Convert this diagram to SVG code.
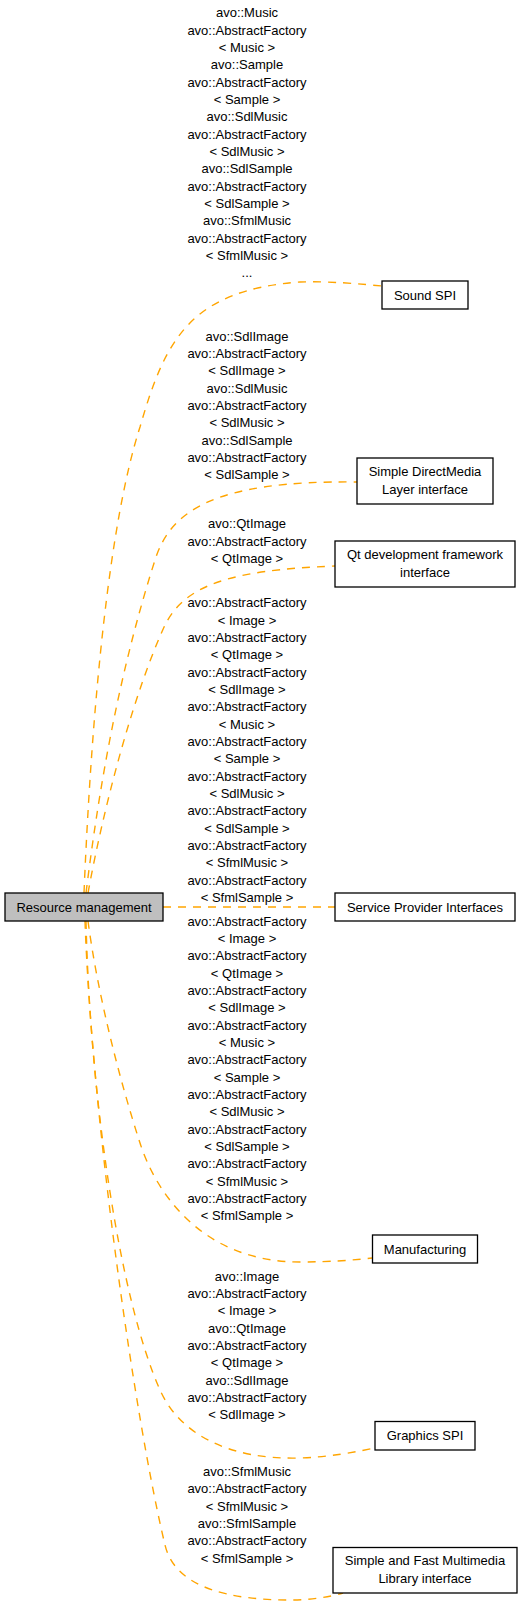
<svg xmlns="http://www.w3.org/2000/svg" width="523" height="1605" viewBox="0 0 523 1605">
<style>
.bg{fill:#ffffff}
.edge{fill:none;stroke:#ffa500;stroke-width:1.4;stroke-dasharray:8,7}
.node{fill:#ffffff;stroke:#000000;stroke-width:1.3}
.cur{fill:#bfbfbf;stroke:#000000;stroke-width:1.3}
text{font-family:"Liberation Sans",Arial,Helvetica,sans-serif;font-size:13px;fill:#000000;text-anchor:middle}
</style>
<rect class="bg" x="0" y="0" width="523" height="1605"/>
<g id="connectors">
  <g id="e-sound">
    <path class="edge" d="M84,893 C92,700 110,520 140,427 C165,340 190,290 300,282 C330,281 360,284 382,286"/>
    <text x="247" y="17.3"><tspan x="247">avo::Music</tspan><tspan x="247" dy="17.33">avo::AbstractFactory</tspan><tspan x="247" dy="17.33">&lt; Music &gt;</tspan><tspan x="247" dy="17.33">avo::Sample</tspan><tspan x="247" dy="17.33">avo::AbstractFactory</tspan><tspan x="247" dy="17.33">&lt; Sample &gt;</tspan><tspan x="247" dy="17.33">avo::SdlMusic</tspan><tspan x="247" dy="17.33">avo::AbstractFactory</tspan><tspan x="247" dy="17.33">&lt; SdlMusic &gt;</tspan><tspan x="247" dy="17.33">avo::SdlSample</tspan><tspan x="247" dy="17.33">avo::AbstractFactory</tspan><tspan x="247" dy="17.33">&lt; SdlSample &gt;</tspan><tspan x="247" dy="17.33">avo::SfmlMusic</tspan><tspan x="247" dy="17.33">avo::AbstractFactory</tspan><tspan x="247" dy="17.33">&lt; SfmlMusic &gt;</tspan><tspan x="247" dy="17.33">...</tspan></text>
  </g>
  <g id="e-sdl">
    <path class="edge" d="M86,893 C100,780 120,670 155,560 C170,513 210,480 357,482"/>
    <text x="247" y="340.7"><tspan x="247">avo::SdlImage</tspan><tspan x="247" dy="17.33">avo::AbstractFactory</tspan><tspan x="247" dy="17.33">&lt; SdlImage &gt;</tspan><tspan x="247" dy="17.33">avo::SdlMusic</tspan><tspan x="247" dy="17.33">avo::AbstractFactory</tspan><tspan x="247" dy="17.33">&lt; SdlMusic &gt;</tspan><tspan x="247" dy="17.33">avo::SdlSample</tspan><tspan x="247" dy="17.33">avo::AbstractFactory</tspan><tspan x="247" dy="17.33">&lt; SdlSample &gt;</tspan></text>
  </g>
  <g id="e-qt">
    <path class="edge" d="M88,893 C105,800 135,690 165,625 C185,585 230,570 335,566"/>
    <text x="247" y="528.3"><tspan x="247">avo::QtImage</tspan><tspan x="247" dy="17.33">avo::AbstractFactory</tspan><tspan x="247" dy="17.33">&lt; QtImage &gt;</tspan></text>
  </g>
  <g id="e-spi">
    <path class="edge" d="M163,907 L335,907"/>
    <text x="247" y="607.3"><tspan x="247">avo::AbstractFactory</tspan><tspan x="247" dy="17.33">&lt; Image &gt;</tspan><tspan x="247" dy="17.33">avo::AbstractFactory</tspan><tspan x="247" dy="17.33">&lt; QtImage &gt;</tspan><tspan x="247" dy="17.33">avo::AbstractFactory</tspan><tspan x="247" dy="17.33">&lt; SdlImage &gt;</tspan><tspan x="247" dy="17.33">avo::AbstractFactory</tspan><tspan x="247" dy="17.33">&lt; Music &gt;</tspan><tspan x="247" dy="17.33">avo::AbstractFactory</tspan><tspan x="247" dy="17.33">&lt; Sample &gt;</tspan><tspan x="247" dy="17.33">avo::AbstractFactory</tspan><tspan x="247" dy="17.33">&lt; SdlMusic &gt;</tspan><tspan x="247" dy="17.33">avo::AbstractFactory</tspan><tspan x="247" dy="17.33">&lt; SdlSample &gt;</tspan><tspan x="247" dy="17.33">avo::AbstractFactory</tspan><tspan x="247" dy="17.33">&lt; SfmlMusic &gt;</tspan><tspan x="247" dy="17.33">avo::AbstractFactory</tspan><tspan x="247" dy="17.33">&lt; SfmlSample &gt;</tspan></text>
  </g>
  <g id="e-manufacturing">
    <path class="edge" d="M88,921 C97,990 118,1075 140,1143 C155,1190 200,1262 300,1262 C330,1262 355,1260 372,1258"/>
    <text x="247" y="925.7"><tspan x="247">avo::AbstractFactory</tspan><tspan x="247" dy="17.33">&lt; Image &gt;</tspan><tspan x="247" dy="17.33">avo::AbstractFactory</tspan><tspan x="247" dy="17.33">&lt; QtImage &gt;</tspan><tspan x="247" dy="17.33">avo::AbstractFactory</tspan><tspan x="247" dy="17.33">&lt; SdlImage &gt;</tspan><tspan x="247" dy="17.33">avo::AbstractFactory</tspan><tspan x="247" dy="17.33">&lt; Music &gt;</tspan><tspan x="247" dy="17.33">avo::AbstractFactory</tspan><tspan x="247" dy="17.33">&lt; Sample &gt;</tspan><tspan x="247" dy="17.33">avo::AbstractFactory</tspan><tspan x="247" dy="17.33">&lt; SdlMusic &gt;</tspan><tspan x="247" dy="17.33">avo::AbstractFactory</tspan><tspan x="247" dy="17.33">&lt; SdlSample &gt;</tspan><tspan x="247" dy="17.33">avo::AbstractFactory</tspan><tspan x="247" dy="17.33">&lt; SfmlMusic &gt;</tspan><tspan x="247" dy="17.33">avo::AbstractFactory</tspan><tspan x="247" dy="17.33">&lt; SfmlSample &gt;</tspan></text>
  </g>
  <g id="e-graphics">
    <path class="edge" d="M86,921 C90,1100 120,1300 160,1390 C180,1435 230,1460 300,1458 C330,1457 355,1452 375,1448"/>
    <text x="247" y="1280.7"><tspan x="247">avo::Image</tspan><tspan x="247" dy="17.33">avo::AbstractFactory</tspan><tspan x="247" dy="17.33">&lt; Image &gt;</tspan><tspan x="247" dy="17.33">avo::QtImage</tspan><tspan x="247" dy="17.33">avo::AbstractFactory</tspan><tspan x="247" dy="17.33">&lt; QtImage &gt;</tspan><tspan x="247" dy="17.33">avo::SdlImage</tspan><tspan x="247" dy="17.33">avo::AbstractFactory</tspan><tspan x="247" dy="17.33">&lt; SdlImage &gt;</tspan></text>
  </g>
  <g id="e-sfml">
    <path class="edge" d="M85,921 C92,1120 135,1420 165,1545 C175,1588 230,1600 290,1600 C310,1600 330,1597 343,1593"/>
    <text x="247" y="1476"><tspan x="247">avo::SfmlMusic</tspan><tspan x="247" dy="17.33">avo::AbstractFactory</tspan><tspan x="247" dy="17.33">&lt; SfmlMusic &gt;</tspan><tspan x="247" dy="17.33">avo::SfmlSample</tspan><tspan x="247" dy="17.33">avo::AbstractFactory</tspan><tspan x="247" dy="17.33">&lt; SfmlSample &gt;</tspan></text>
  </g>
</g>
<g id="resource-management">
  <rect class="cur" x="5" y="893" width="158" height="28"/>
  <text x="84" y="911.5">Resource management</text>
</g>
<g id="sound-spi">
  <rect class="node" x="382" y="281" width="86" height="28"/>
  <text x="425" y="299.5">Sound SPI</text>
</g>
<g id="sdl-interface">
  <rect class="node" x="357" y="458" width="136" height="46"/>
  <text x="425" y="476"><tspan x="425">Simple DirectMedia</tspan><tspan x="425" dy="17.5">Layer interface</tspan></text>
</g>
<g id="qt-interface">
  <rect class="node" x="335" y="541" width="180" height="46"/>
  <text x="425" y="559"><tspan x="425">Qt development framework</tspan><tspan x="425" dy="17.5">interface</tspan></text>
</g>
<g id="service-provider-interfaces">
  <rect class="node" x="335" y="893" width="180" height="28"/>
  <text x="425" y="911.5">Service Provider Interfaces</text>
</g>
<g id="manufacturing">
  <rect class="node" x="372.5" y="1235" width="105" height="28"/>
  <text x="425" y="1253.5">Manufacturing</text>
</g>
<g id="graphics-spi">
  <rect class="node" x="375" y="1421.5" width="100" height="28.5"/>
  <text x="425" y="1440">Graphics SPI</text>
</g>
<g id="sfml-interface">
  <rect class="node" x="333" y="1547.5" width="184" height="45.5"/>
  <text x="425" y="1564.5"><tspan x="425">Simple and Fast Multimedia</tspan><tspan x="425" dy="18.5">Library interface</tspan></text>
</g>
</svg>
